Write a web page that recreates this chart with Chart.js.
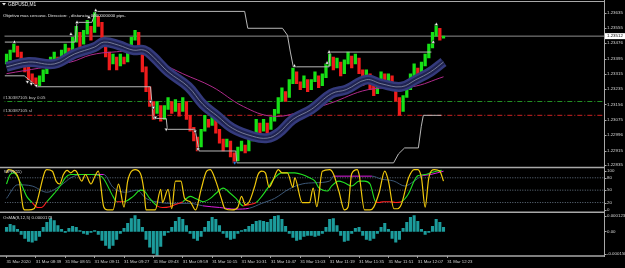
<!DOCTYPE html>
<html>
<head>
<meta charset="utf-8">
<title>GBPUSD,M1</title>
<script src="https://cdn.jsdelivr.net/npm/chart.js@4.4.1/dist/chart.umd.min.js"></script>
<style>
  html, body { margin: 0; padding: 0; background: #000; overflow: hidden; }
  canvas { display: block; }
</style>
</head>
<body>
<canvas id="chart" width="625" height="268"></canvas>
<script>
// GBPUSD M1, 31 Mar 2020. One candle per 2 minutes, minute 0 = 08:23
const candleOpens = [
  1.23367, 1.23388, 1.23429, 1.23460, 1.23429, 1.23388, 1.23352, 1.23316, 1.23295, 1.23254,
  1.23274, 1.23316, 1.23346, 1.23367, 1.23403, 1.23367, 1.23419, 1.23450, 1.23419, 1.23481,
  1.23532, 1.23470, 1.23522, 1.23563, 1.23532, 1.23615, 1.23584, 1.23501, 1.23429, 1.23367,
  1.23403, 1.23357, 1.23403, 1.23377, 1.23439, 1.23491, 1.23532, 1.23460, 1.23352, 1.23248,
  1.23171, 1.23109, 1.23150, 1.23078, 1.23130, 1.23171, 1.23119, 1.23161, 1.23119, 1.23171,
  1.23099, 1.23037, 1.22985, 1.22934, 1.23016, 1.23078, 1.23047, 1.23088, 1.23026, 1.22975,
  1.22934, 1.22965, 1.22903, 1.22861, 1.22913, 1.22944, 1.22913, 1.22965, 1.22985, 1.23058,
  1.23016, 1.23058, 1.23026, 1.23068, 1.23109, 1.23171, 1.23223, 1.23192, 1.23264, 1.23326,
  1.23274, 1.23243, 1.23285, 1.23233, 1.23274, 1.23305, 1.23254, 1.23295, 1.23357, 1.23403,
  1.23346, 1.23377, 1.23316, 1.23367, 1.23408, 1.23367, 1.23398, 1.23336, 1.23274, 1.23316,
  1.23254, 1.23212, 1.23274, 1.23316, 1.23264, 1.23305, 1.23243, 1.23192, 1.23119, 1.23192,
  1.23233, 1.23295, 1.23346, 1.23316, 1.23357, 1.23398, 1.23450, 1.23512, 1.23553, 1.23501
];
const candleCloses = [
  1.23419, 1.23439, 1.23470, 1.23403, 1.23367, 1.23326, 1.23285, 1.23264, 1.23254, 1.23305,
  1.23336, 1.23377, 1.23403, 1.23429, 1.23352, 1.23439, 1.23470, 1.23403, 1.23506, 1.23563,
  1.23455, 1.23542, 1.23594, 1.23491, 1.23635, 1.23563, 1.23481, 1.23403, 1.23336, 1.23419,
  1.23336, 1.23419, 1.23367, 1.23455, 1.23506, 1.23542, 1.23439, 1.23326, 1.23223, 1.23145,
  1.23078, 1.23171, 1.23068, 1.23150, 1.23192, 1.23109, 1.23181, 1.23094, 1.23192, 1.23078,
  1.23016, 1.22965, 1.22913, 1.23026, 1.23099, 1.23037, 1.23109, 1.23006, 1.22954, 1.22913,
  1.22975, 1.22882, 1.22851, 1.22934, 1.22965, 1.22903, 1.22985, 1.23006, 1.23078, 1.22996,
  1.23078, 1.23006, 1.23088, 1.23130, 1.23192, 1.23243, 1.23171, 1.23285, 1.23346, 1.23264,
  1.23233, 1.23305, 1.23223, 1.23285, 1.23326, 1.23243, 1.23316, 1.23367, 1.23419, 1.23336,
  1.23398, 1.23305, 1.23388, 1.23429, 1.23346, 1.23419, 1.23316, 1.23254, 1.23336, 1.23233,
  1.23202, 1.23285, 1.23326, 1.23254, 1.23316, 1.23233, 1.23171, 1.23099, 1.23202, 1.23254,
  1.23316, 1.23367, 1.23305, 1.23377, 1.23419, 1.23470, 1.23532, 1.23573, 1.23491, 1.23512
];
const osmaValues = [
  26e-6, 45e-6, 38e-6, 13e-6, -19e-6, -45e-6, -64e-6, -70e-6, -58e-6, -32e-6,
  26e-6, 58e-6, 83e-6, 70e-6, 38e-6, 13e-6, -6e-6, 19e-6, 32e-6, 26e-6,
  6e-6, -13e-6, -19e-6, -6e-6, 6e-6, -19e-6, -58e-6, -90e-6, -109e-6, -90e-6,
  -51e-6, -13e-6, 19e-6, 51e-6, 83e-6, 102e-6, 77e-6, 26e-6, -51e-6, -102e-6,
  -141e-6, -154e-6, -96e-6, -26e-6, -6e-6, 26e-6, 64e-6, 90e-6, 77e-6, 38e-6,
  -13e-6, -45e-6, -58e-6, -32e-6, 26e-6, 64e-6, 90e-6, 77e-6, 38e-6, -13e-6,
  -38e-6, -51e-6, -45e-6, -13e-6, 6e-6, 13e-6, 32e-6, 45e-6, 64e-6, 70e-6,
  64e-6, 58e-6, 77e-6, 96e-6, 102e-6, 77e-6, 32e-6, -13e-6, -38e-6, -58e-6,
  -51e-6, -32e-6, -26e-6, -26e-6, -32e-6, -26e-6, -13e-6, 26e-6, 77e-6, 83e-6,
  38e-6, -26e-6, -64e-6, -58e-6, -13e-6, 19e-6, 26e-6, -26e-6, -51e-6, -58e-6,
  -45e-6, -13e-6, 26e-6, 51e-6, 13e-6, -45e-6, -70e-6, -51e-6, 19e-6, 58e-6,
  90e-6, 102e-6, 64e-6, 13e-6, -19e-6, -6e-6, 32e-6, 77e-6, 58e-6, 26e-6
];

// moving average ribbon and slow MA (minutes after 08:23)
const ribbonTimes = [0, 12, 26, 37, 48, 53, 61, 69, 75, 80, 88, 99, 107, 115, 123, 134, 142, 148, 156, 166, 177, 185, 196, 204, 215, 223, 231, 238];
const ribbonPrices = [1.23352, 1.23377, 1.23367, 1.23419, 1.23455, 1.23481, 1.23465, 1.23439, 1.23439, 1.23403,
  1.23326, 1.23248, 1.23156, 1.23094, 1.23032, 1.22990, 1.22980, 1.23006, 1.23078, 1.23130,
  1.23212, 1.23233, 1.23285, 1.23264, 1.23248, 1.23285, 1.23326, 1.23377];
const slowMaTimes = [0, 35, 46, 58, 71, 85, 96, 112, 129, 145, 161, 176, 197, 221, 238];
const slowMaPrices = [1.23316, 1.23377, 1.23414, 1.23429, 1.23429, 1.23367, 1.23316, 1.23248, 1.23145, 1.23094, 1.23119, 1.23161, 1.23233, 1.23248, 1.23300];

// trailing levels
const upperTimes = [-1, 37.3, 38.4, 46.5, 48.6, 129.7, 131.4, 150.3, 153, 154.6, 156.2, 175.7, 176.2, 231.4];
const upperPrices = [1.23481, 1.23481, 1.23584, 1.23584, 1.23641, 1.23641, 1.23553, 1.23553, 1.23517, 1.23429, 1.23352, 1.23352, 1.23429, 1.23429];
const lowerTimes = [-1, 9.7, 16.8, 78.4, 80, 87, 87.6, 102.7, 104.9, 124.9, 125.4, 210.8, 213.5, 216.8, 224.3, 225.9, 227, 236.8];
const lowerPrices = [1.23305, 1.23305, 1.23248, 1.23248, 1.23083, 1.23083, 1.23026, 1.23026, 1.22913, 1.22913, 1.22851, 1.22851, 1.22898, 1.22929, 1.22929, 1.23042, 1.23099, 1.23099];

// fractal arrows
const topMarkTimes = [4.3, 35.1, 38.4, 44.9, 48.6, 156.8, 174.6, 175.7, 232.4, 234.1];
const topMarkPrices = [1.23481, 1.23522, 1.23584, 1.23610, 1.23646, 1.23357, 1.23372, 1.23429, 1.23481, 1.23573];
const bottomMarkTimes = [11.4, 13.5, 16.2, 78.4, 80, 81.1, 87, 102.7, 104.3];
const bottomMarkPrices = [1.23274, 1.23264, 1.23254, 1.23171, 1.23140, 1.23088, 1.23026, 1.23016, 1.22923];
const blueMarkTimes = [124.3];
const blueMarkPrices = [1.22851];

const currentPrice = 1.23512;
const buyPrice = 1.23171;
const slPrice = 1.23099;

// oscillator panel
const wprTimes = [0, 1, 4, 7, 9, 10, 12, 15, 21, 22, 25, 27, 29, 31, 33, 35, 37, 38, 41, 43,
  46, 48, 50, 53, 55, 58, 61, 62, 64, 66, 70, 73, 75, 76, 81, 84, 85, 88, 90, 92,
  95, 97, 100, 103, 106, 109, 111, 114, 117, 119, 123, 126, 128, 130, 132, 135, 137, 139, 141, 143,
  145, 148, 150, 153, 156, 157, 161, 165, 167, 169, 172, 176, 178, 181, 184, 186, 188, 191, 192, 195,
  198, 200, 203, 206, 208, 211, 213, 215, 219, 222, 224, 226, 228, 230, 233, 236, 238];
const wprValues = [92, 100, 96, 72, 9, 2, 2, 5, 96, 100, 96, 72, 65, 88, 98, 92, 98, 96, 72, 88,
  65, 82, 96, 9, 2, 2, 65, 50, 9, 72, 100, 90, 45, 2, 2, 52, 20, 52, 5, 72,
  72, 30, 22, 2, 52, 96, 100, 72, 30, 5, 2, 9, 35, 15, 20, 57, 88, 96, 92, 57,
  72, 100, 92, 92, 57, 80, 20, 20, 55, 10, 96, 100, 90, 48, 2, 9, 90, 100, 88, 2,
  2, 9, 45, 96, 72, 5, 5, 15, 80, 100, 100, 80, 9, 80, 100, 96, 72];
const signalTimes = [0, 2, 4, 8, 11, 14, 17, 19, 22, 26, 30, 32, 35, 41, 46, 51, 53, 58, 60, 64,
  69, 73, 75, 78, 82, 85, 89, 92, 96, 100, 103, 107, 111, 114, 118, 122, 125, 129, 132, 136,
  139, 143, 146, 150, 154, 157, 161, 165, 168, 170, 175, 177, 181, 184, 188, 192, 195, 198, 201, 203,
  205, 209, 212, 215, 219, 222, 224, 228, 231, 234, 237];
const signalValues = [65, 88, 92, 65, 35, 20, 8, 8, 22, 42, 65, 80, 88, 88, 88, 85, 77, 35, 22, 22,
  35, 50, 48, 30, 12, 8, 10, 15, 22, 35, 30, 22, 30, 42, 55, 42, 30, 12, 15, 20,
  35, 60, 80, 92, 92, 92, 88, 80, 72, 56, 48, 60, 72, 68, 60, 72, 72, 65, 22, 20,
  22, 22, 20, 22, 42, 72, 85, 88, 92, 96, 98];
const slowTimes = [0, 6, 14, 22, 30, 35, 41, 53, 58, 65, 71, 76, 84, 92, 100, 107, 116, 125, 132, 139,
  146, 154, 161, 168, 176, 178, 199, 204, 211, 217, 222, 226, 231, 238];
const slowValues = [30, 63, 60, 45, 63, 80, 88, 88, 57, 45, 50, 30, 20, 18, 18, 12, 8, 4, 6, 18,
  30, 53, 65, 68, 72, 84, 84, 77, 72, 60, 72, 84, 88, 96];

// axis ticks
const priceTicks = [1.23635, 1.23555, 1.23476, 1.23395, 1.23315, 1.23235, 1.23156, 1.23075, 1.22996, 1.22915, 1.22835];
const wprTicks = [100, 80, 50, 20, 0];
const wprLevels = [80, 50, 20];
const osmaTicks = [0.000123, 0, -0.000158];
const osmaTickLabels = ['0.000123', '0.00', '-0.000158'];
const tickMinutes = [0, 16, 32, 48, 64, 80, 96, 112, 128, 144, 160, 176, 192, 208, 224, 240];
const tickLabels = ['31 Mar 2020', '31 Mar 08:39', '31 Mar 08:55', '31 Mar 09:11', '31 Mar 09:27', '31 Mar 09:43',
  '31 Mar 09:59', '31 Mar 10:15', '31 Mar 10:31', '31 Mar 10:47', '31 Mar 11:03', '31 Mar 11:19',
  '31 Mar 11:35', '31 Mar 11:51', '31 Mar 12:07', '31 Mar 12:23'];

const pts = (xs, ys) => xs.map((x, i) => ({ x: x, y: ys[i] }));
const flat = (y) => [{ x: -5, y: y }, { x: 400, y: y }];
const FONT = '"Liberation Sans", Arial, sans-serif';

const candleData = candleOpens.map((o, i) => ({ x: i * 2, y: [o, candleCloses[i]] }));
const candleColors = candleOpens.map((o, i) => candleCloses[i] >= o ? '#16e016' : '#f01c1c');
const osmaData = osmaValues.map((v, i) => ({ x: i * 2, y: v }));

function lineSet(data, yAxisID, color, width, extra) {
  return Object.assign({
    type: 'line', data: data, yAxisID: yAxisID, borderColor: color, borderWidth: width,
    pointRadius: 0, fill: false, tension: 0
  }, extra || {});
}

function markSet(data, color, rotation) {
  return {
    type: 'line', data: data, yAxisID: 'yMain', showLine: false, pointStyle: 'triangle',
    pointRadius: 2.2, pointRotation: rotation, pointBackgroundColor: color,
    pointBorderColor: '#000', pointBorderWidth: 0.5, order: 0
  };
}

const datasets = [
  markSet(pts(topMarkTimes, topMarkPrices), '#ffffff', 0),
  markSet(pts(bottomMarkTimes, bottomMarkPrices), '#ffffff', 180),
  markSet(pts(blueMarkTimes, blueMarkPrices), '#2a8cff', 180),
  lineSet(pts(ribbonTimes, ribbonPrices), 'yMain', '#8a8fa6', 0.8, { tension: 0.4, order: 1 }),
  lineSet(pts(ribbonTimes, ribbonPrices), 'yMain', '#1f2350', 5, { tension: 0.4, order: 2 }),
  lineSet(pts(ribbonTimes, ribbonPrices), 'yMain', '#343a7c', 10, { tension: 0.4, order: 3 }),
  lineSet(pts(slowMaTimes, slowMaPrices), 'yMain', '#b02a8c', 1, { tension: 0.4, order: 4 }),
  lineSet(pts(upperTimes, upperPrices), 'yMain', '#b8b8b8', 1, { order: 5 }),
  lineSet(pts(lowerTimes, lowerPrices), 'yMain', '#b8b8b8', 1, { order: 5 }),
  {
    type: 'bar', data: candleData, yAxisID: 'yMain', backgroundColor: candleColors,
    barThickness: 2.6, grouped: false, order: 6
  },
  lineSet(flat(currentPrice), 'yMain', '#8e8e8e', 1, { order: 7 }),
  lineSet(flat(buyPrice), 'yMain', '#249424', 1, { borderDash: [5, 2, 1, 2], order: 7 }),
  lineSet(flat(slPrice), 'yMain', '#cc2222', 1, { borderDash: [5, 2, 1, 2], order: 7 })
];

wprLevels.forEach(v => datasets.push(lineSet(flat(v), 'yWpr', '#7f90a4', 0.8, { borderDash: [1, 1.5], order: 9 })));
datasets.push(lineSet(pts(slowTimes, slowValues), 'yWpr', '#3c5878', 1, {
  cubicInterpolationMode: 'monotone', order: 8,
  segment: { borderColor: c => ((c.p0.parsed.y > 80 && c.p1.parsed.y > 80) || (c.p0.parsed.y < 15 && c.p1.parsed.y < 15)) ? '#e01ee0' : '#3c5878' }
}));
datasets.push(lineSet(pts(signalTimes, signalValues), 'yWpr', '#22e022', 1.1, {
  cubicInterpolationMode: 'monotone', order: 7,
  segment: { borderColor: c => (c.p0.parsed.y <= 22 && c.p1.parsed.y <= 22) ? '#ff2020' : '#22e022' }
}));
datasets.push(lineSet(pts(wprTimes, wprValues), 'yWpr', '#f0c80c', 1.2, { cubicInterpolationMode: 'monotone', order: 6 }));
datasets.push({
  type: 'bar', data: osmaData, yAxisID: 'yOsma', backgroundColor: '#1c9c9c',
  barThickness: 2.4, grouped: false, order: 5
});

function yAxis(weight, min, max, ticks) {
  return {
    type: 'linear', position: 'right', stack: 'panes', stackWeight: weight,
    min: min, max: max, beginAtZero: false,
    grid: { display: false }, border: { display: false }, ticks: { display: false },
    afterBuildTicks: s => { s.ticks = ticks.map(v => ({ value: v })); },
    afterFit: s => { s.width = 21; }
  };
}

const overlay = {
  id: 'overlay',
  beforeDraw(chart) {
    const ctx = chart.ctx;
    ctx.save();
    ctx.fillStyle = '#000';
    ctx.fillRect(0, 0, chart.width, chart.height);
    ctx.restore();
  },
  afterDraw(chart) {
    const ctx = chart.ctx;
    const a = chart.chartArea;
    const s = chart.scales;
    const seg = (x1, y1, x2, y2) => { ctx.beginPath(); ctx.moveTo(x1, y1); ctx.lineTo(x2, y2); ctx.stroke(); };
    ctx.save();

    // frame and pane separators
    ctx.strokeStyle = '#a8a8a8';
    ctx.lineWidth = 1;
    seg(0, 1.5, a.right, 1.5);
    seg(a.right + 0.5, 0, a.right + 0.5, a.bottom + 1);
    ctx.lineWidth = 1.6;
    [s.yWpr.top, s.yOsma.top, a.bottom].forEach(y => seg(0, y, a.right, y));

    // right axis labels
    ctx.font = '4.4px ' + FONT;
    ctx.textBaseline = 'middle';
    ctx.textAlign = 'left';
    const axes = [
      [s.yMain, v => v.toFixed(5)],
      [s.yWpr, v => String(v)],
      [s.yOsma, v => osmaTickLabels[osmaTicks.indexOf(v)]]
    ];
    axes.forEach(([sc, fmt]) => {
      sc.ticks.forEach(t => {
        let y = sc.getPixelForValue(t.value);
        y = Math.min(Math.max(y, sc.top + 3.5), sc.bottom - 2.5);
        ctx.strokeStyle = '#a8a8a8';
        ctx.lineWidth = 1;
        seg(a.right, Math.round(y) + 0.5, a.right + 2.5, Math.round(y) + 0.5);
        ctx.fillStyle = '#d6d6d6';
        ctx.fillText(fmt(t.value), a.right + 3, y);
      });
    });

    // current price box
    const py = s.yMain.getPixelForValue(currentPrice);
    ctx.fillStyle = '#ffffff';
    ctx.fillRect(a.right + 1, py - 3, 20, 6);
    ctx.fillStyle = '#000000';
    ctx.fillText(currentPrice.toFixed(5), a.right + 3, py);

    // chart texts
    ctx.fillStyle = '#e6e6e6';
    ctx.beginPath();
    ctx.moveTo(2, 3); ctx.lineTo(6, 3); ctx.lineTo(4, 5.5); ctx.closePath(); ctx.fill();
    ctx.font = '4.8px ' + FONT;
    ctx.fillText('GBPUSD,M1', 8, 4.5);
    ctx.font = '4.4px ' + FONT;
    ctx.fillText('Objetivo mas cercano. Direccion: , distancia: 0000000000 pips.', 3, 16);
    ctx.fillStyle = '#c4c4c4';
    ctx.fillText('#130387105 buy 0.05', 3, 97.5);
    ctx.fillText('#130387105 sl', 3, 111);
    ctx.fillStyle = '#d6d6d6';
    ctx.fillText('WPR(11)', 4, s.yWpr.top + 4.5);
    ctx.fillText('OsMA(8,12,5) 0.0000179', 3, s.yOsma.top + 5.5);
    ctx.restore();
  }
};

new Chart(document.getElementById('chart'), {
  type: 'bar',
  data: { datasets: datasets },
  options: {
    responsive: false,
    animation: false,
    devicePixelRatio: 1,
    layout: { padding: { top: 2, left: 0, right: 0, bottom: 0 } },
    plugins: { legend: { display: false }, tooltip: { enabled: false } },
    scales: {
      x: {
        type: 'linear', min: -1.08, max: 325.4, offset: false,
        grid: { display: true, drawOnChartArea: false, drawTicks: true, tickLength: 2, color: '#9a9a9a', offset: false },
        border: { display: false },
        afterBuildTicks: sc => { sc.ticks = tickMinutes.map(v => ({ value: v })); },
        afterFit: sc => { sc.height = 12; },
        ticks: {
          autoSkip: false, maxRotation: 0, minRotation: 0, align: 'start', padding: 1.5,
          color: '#cfcfcf', font: { family: FONT, size: 4.3 },
          callback: (v, i) => tickLabels[i]
        }
      },
      yMain: yAxis(164.6, 1.22827, 1.23677, priceTicks),
      yWpr: yAxis(45.2, -3.5, 105, wprTicks),
      yOsma: yAxis(44.2, -0.000158, 0.000123, osmaTicks)
    }
  },
  plugins: [overlay]
});
</script>
</body>
</html>
